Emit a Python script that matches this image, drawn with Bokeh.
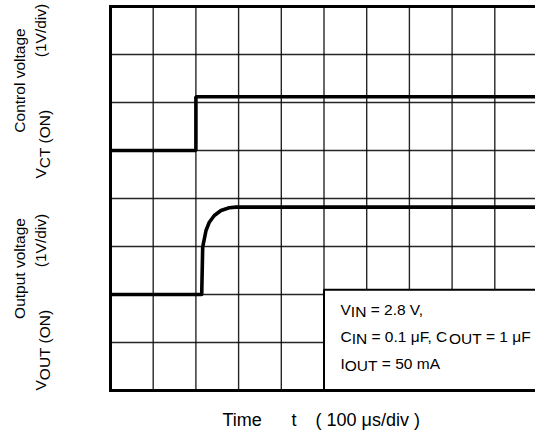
import math
from bokeh.plotting import figure
from bokeh.models import Label, Range1d
from bokeh.embed import file_html
from bokeh.resources import INLINE

# ---------------- data (divisions) ----------------
x_div_ticks = [0, 1, 2, 3, 4, 5, 6, 7, 8, 9, 10]
y_div_ticks = [0, 1, 2, 3, 4, 5, 6, 7, 8]

# Control voltage trace (time div, level div)
ct_time = [0.0, 2.0, 2.0, 10.0]
ct_level = [5.0, 5.0, 6.12, 6.12]

# Output voltage trace
out_time = [0.0, 2.136, 2.159, 2.237, 2.314, 2.431, 2.588, 2.782, 2.939, 10.0]
out_level = [2.0, 2.0, 2.985, 3.333, 3.506, 3.646, 3.75, 3.806, 3.82, 3.82]

cond_lines = [
    [("V", False), ("IN", True), (" = 2.8 V,", False)],
    [("C", False), ("IN", True), (" = 0.1 \u03bcF, C", False), ("OUT", True), (" = 1 \u03bcF", False)],
    [("I", False), ("OUT", True), (" = 50 mA", False)],
]

# ---------------- layout ----------------
W, H = 535, 434
X0 = 110.0          # page x of time 0
Y0 = 390.0          # page y of level 0
PX_X = 42.7         # px per x division
PX_Y = 48.0         # px per y division

FONT = "Liberation Sans"

p = figure(width=W, height=H, output_backend="svg", toolbar_location=None,
           x_range=Range1d(-X0 / PX_X, (W - X0) / PX_X),
           y_range=Range1d(-(H - Y0) / PX_Y, Y0 / PX_Y),
           min_border_left=0, min_border_right=0, min_border_top=0,
           min_border_bottom=0)
p.xaxis.visible = False
p.yaxis.visible = False
p.grid.visible = False
p.outline_line_color = None
p.background_fill_color = "white"
p.border_fill_color = "white"

xmax = x_div_ticks[-1]
ymax = y_div_ticks[-1]

# graticule
p.segment(x0=x_div_ticks, x1=x_div_ticks, y0=[0] * len(x_div_ticks),
          y1=[ymax] * len(x_div_ticks), line_color="black", line_width=1.4, line_alpha=0.85)
p.segment(x0=[0] * len(y_div_ticks), x1=[xmax] * len(y_div_ticks), y0=y_div_ticks,
          y1=y_div_ticks, line_color="black", line_width=1.4, line_alpha=0.85)

# traces
p.line(ct_time, ct_level, line_color="black", line_width=3.6)
p.line(out_time, out_level, line_color="black", line_width=3.6, line_join="round")

# conditions box
p.quad(left=[5.0], right=[12.0], bottom=[0], top=[2.1],
       fill_color="white", line_color="black", line_width=2)

# border (left, top, bottom)
p.line([xmax + 1, 0, 0, xmax + 1], [ymax, ymax, 0, 0], line_color="black",
       line_width=3, line_join="miter")

def dx(px):
    return (px - X0) / PX_X

def dy(py):
    return (Y0 - py) / PX_Y

WID = {' ': 278, '(': 333, ')': 333, ',': 278, '.': 278, '/': 278, '=': 584,
       'A': 667, 'C': 722, 'F': 611, 'I': 278, 'N': 722, 'O': 778, 'T': 611,
       'U': 722, 'V': 667, 'm': 833, '\u03bc': 576, 'a': 556, 'd': 556, 'e': 556,
       'g': 556, 'i': 222, 'l': 222, 'n': 556, 'o': 556, 'p': 556, 'r': 333,
       's': 500, 't': 278, 'u': 556, 'v': 500}
for ch in "0123456789":
    WID[ch] = 556

def tw(s, size):
    return sum(WID.get(c, 556) for c in s) * size / 1000.0

def lab(x, y, txt, size, align="left", angle=0.0):
    p.add_layout(Label(x=x, y=y, text=txt, text_font=FONT,
                       text_font_size=f"{size}px", text_color="black",
                       text_align=align, text_baseline="alphabetic",
                       angle=angle))

def runs_h(x0, base, runs, size, sub=2.8):
    cur = x0
    for txt, is_sub in runs:
        lead = len(txt) - len(txt.lstrip(" "))
        cur += tw(" " * lead, size)
        body = txt.lstrip(" ")
        yy = base + (sub if is_sub else 0)
        lab(dx(cur), dy(yy), body, size)
        cur += tw(body, size)

def runs_v(bx, y0, runs, size, sub=3.5):
    cur = y0
    for txt, is_sub in runs:
        lead = len(txt) - len(txt.lstrip(" "))
        cur -= tw(" " * lead, size)
        body = txt.lstrip(" ")
        xx = bx + (sub if is_sub else 0)
        lab(dx(xx), dy(cur), body, size, angle=math.pi / 2)
        cur -= tw(body, size)

BOX_SIZE = 15.5
for i, runs in enumerate(cond_lines):
    runs_h(340, 308.5 + i * 27, runs, BOX_SIZE)

LS = 15.5
C1 = 19
C2 = 40
lab(dx(C1), dy(80), "Control voltage", LS, align="center", angle=math.pi / 2)
runs_v(C2, 178, [("V", False), ("CT (ON)", True)], LS)
lab(dx(C2), dy(30), "(1V/div)", LS, align="center", angle=math.pi / 2)

lab(dx(C1), dy(268), "Output voltage", LS, align="center", angle=math.pi / 2)
runs_v(C2, 390, [("V", False), ("OUT (ON)", True)], LS)
lab(dx(C2), dy(240), "(1V/div)", LS, align="center", angle=math.pi / 2)

XS = 18
XB = 419
runs_h(222, XB, [("Time", False)], XS)
runs_h(291, XB, [("t", False)], XS)
runs_h(315, XB, [("( 100 \u03bcs/div )", False)], XS)

open("out.html", "w").write(file_html(p, INLINE))
